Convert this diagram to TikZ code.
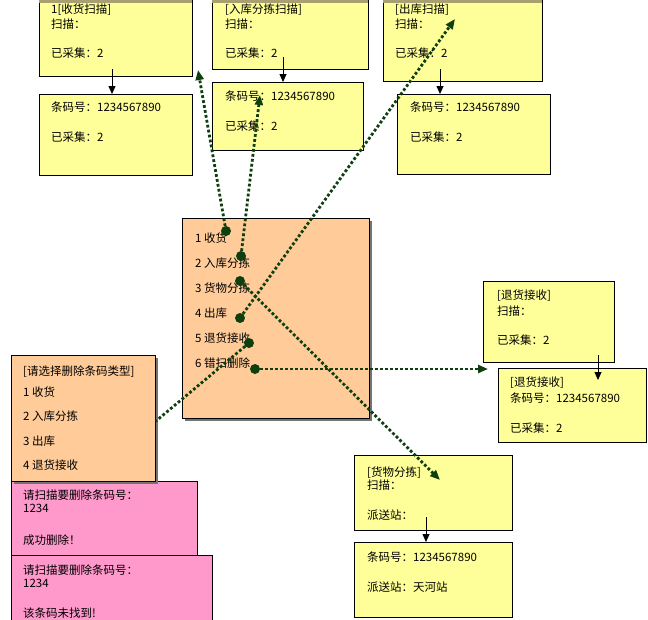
\documentclass[tikz,border=0pt]{standalone}
\usepackage{fontspec}
\newfontfamily\cjk{Noto Sans CJK SC}
\usetikzlibrary{arrows.meta,shadows,calc}
\definecolor{yel}{HTML}{FFFF99}
\definecolor{org}{HTML}{FFCC99}
\definecolor{pnk}{HTML}{FF99CC}
\definecolor{dgr}{HTML}{0F3F0F}
\definecolor{bandc}{HTML}{A8A070}
\newcommand\mkbox[6]{\node[#2, minimum width={#5-#3}, minimum height={#6-#4}] (#1) at ({(#3+#5)/2},{(#4+#6)/2}) {};}
\newcommand\mktext[3]{\foreach \yy/\ttxt [count=\i] in {#3} {\node[txt] (#1-\i) at (#2,\yy+4.3) {\ttxt};}}
\begin{document}
\begin{tikzpicture}[x=1pt,y=-1pt,
  box/.style={draw=black, line width=0.9pt, inner sep=0pt, outer sep=0pt},
  ybox/.style={box, fill=yel},
  obox/.style={box, fill=org, drop shadow={shadow xshift=2.5pt, shadow yshift=-2.5pt, fill=black!55, opacity=1}},
  pbox/.style={box, fill=pnk},
  txt/.style={anchor=base west, inner sep=0pt, font=\cjk\fontsize{11.5}{14}\selectfont},
  dot/.style={circle, fill=dgr, inner sep=0pt, minimum size=10pt},
  dotline/.style={draw=dgr, line width=2.8pt, dash pattern=on 2.8pt off 2.2pt},
  dotarrow/.style={dotline, -{Triangle[length=10pt,width=8pt]}},
  solidarrow/.style={draw=black, line width=0.8pt, -{Triangle[length=8pt,width=7pt]}},
]
\useasboundingbox (0,0) rectangle (648,619);
\fill[white] (0,0) rectangle (648,619);

% top row boxes
\mkbox{b1}{ybox}{39}{-10}{192}{76}
\mkbox{b2}{ybox}{39}{94}{192}{175}
\mkbox{b3}{ybox}{212}{-10}{368}{69}
\mkbox{b4}{ybox}{212}{82}{363}{150}
\mkbox{b5}{ybox}{383}{-10}{542}{81}
\mkbox{b6}{ybox}{397}{94}{550}{174}
\foreach \b in {b1,b3,b5} {\fill[bandc] (\b.north west) rectangle ($(\b.north east)+(0,12.5)$);}

% center and right/bottom boxes
\mkbox{c}{obox}{182}{218}{369}{418}
\mkbox{r1}{ybox}{483}{281}{614}{362}
\mkbox{r2}{ybox}{498}{368}{646}{442}
\mkbox{g1}{ybox}{354}{455}{512}{530}
\mkbox{g2}{ybox}{354}{542}{512}{617}

% left boxes
\mkbox{p2}{pbox}{11}{555}{212}{630}
\mkbox{p1}{pbox}{11}{481}{197}{555}
\mkbox{lb}{obox}{11}{355}{155}{481}

% texts
\mktext{tb1}{51}{9/{1[收货扫描]}, 24/扫描：, 53/已采集：2}
\mktext{tb2}{51}{107/条码号：1234567890, 137/已采集：2}
\mktext{tb3}{225}{9/{[入库分拣扫描]}, 24/扫描：, 53/已采集：2}
\mktext{tb4}{225}{96/条码号：1234567890, 126/已采集：2}
\mktext{tb5}{395}{9/{[出库扫描]}, 24/扫描：, 53/已采集：2}
\mktext{tb6}{410}{107/条码号：1234567890, 137/已采集：2}
\mktext{tc}{195}{238/1 收货, 263/2 入库分拣, 288/3 货物分拣, 313/4 出库, 338/5 退货接收, 363/6 错扫删除}
\mktext{tl}{23}{371/{[请选择删除条码类型]}, 392/1 收货, 416/2 入库分拣, 441/3 出库, 465/4 退货接收}
\mktext{tp1}{23}{495/请扫描要删除条码号：, 508/1234, 540/成功删除！}
\mktext{tp2}{23}{570/请扫描要删除条码号：, 583/1234, 613/该条码未找到!}
\mktext{tr1}{497}{295/{[退货接收]}, 311/扫描：, 340/已采集：2}
\mktext{tr2}{510}{382/{[退货接收]}, 398/条码号：1234567890, 428/已采集：2}
\mktext{tg1}{367}{472/{[货物分拣]}, 485/扫描：, 515/派送站：}
\mktext{tg2}{367}{557/条码号：1234567890, 587/派送站：天河站}

% solid arrows between boxes
\coordinate (s1) at ($(b1.south west)+(73,-7)$);
\draw[solidarrow] (s1) -- (s1 |- b2.north);
\coordinate (s2) at ($(b3.south west)+(71,-12)$);
\draw[solidarrow] (s2) -- (s2 |- b4.north);
\coordinate (s3) at ($(b5.south west)+(57,-12)$);
\draw[solidarrow] (s3) -- (s3 |- b6.north);
\coordinate (s4) at ($(r1.south west)+(115,-7)$);
\draw[solidarrow] (s4) -- ($(s4 |- r2.north)+(0,12)$);
\coordinate (s5) at ($(g1.south west)+(72,-13)$);
\draw[solidarrow] (s5) -- (s5 |- g2.north);

% dots on the menu
\coordinate (d1p) at (226,231);
\coordinate (d2p) at (241,256);
\coordinate (d3p) at (240,281);
\coordinate (d4p) at (240,318);
\coordinate (d5p) at (249,343);
\coordinate (d6p) at (255,369);

% free ends of dotted connectors
\coordinate (e1) at (198,70);
\coordinate (e2) at (260,95);
\coordinate (e3) at (440,480);
\coordinate (e4) at (455,19);
\coordinate (e5) at (156,421);
\coordinate (e6) at (488,369);

\draw[dotarrow] (d1p) -- (e1);
\draw[dotarrow] (d2p) -- (e2);
\draw[dotarrow] (d3p) -- (e3);
\draw[dotarrow] (d4p) -- (e4);
\draw[dotline] (d5p) -- (e5);
\draw[dotarrow] (d6p) -- (e6);

\foreach \k in {1,...,6} {\node[dot] (d\k) at (d\k p) {};}
\end{tikzpicture}
\end{document}
